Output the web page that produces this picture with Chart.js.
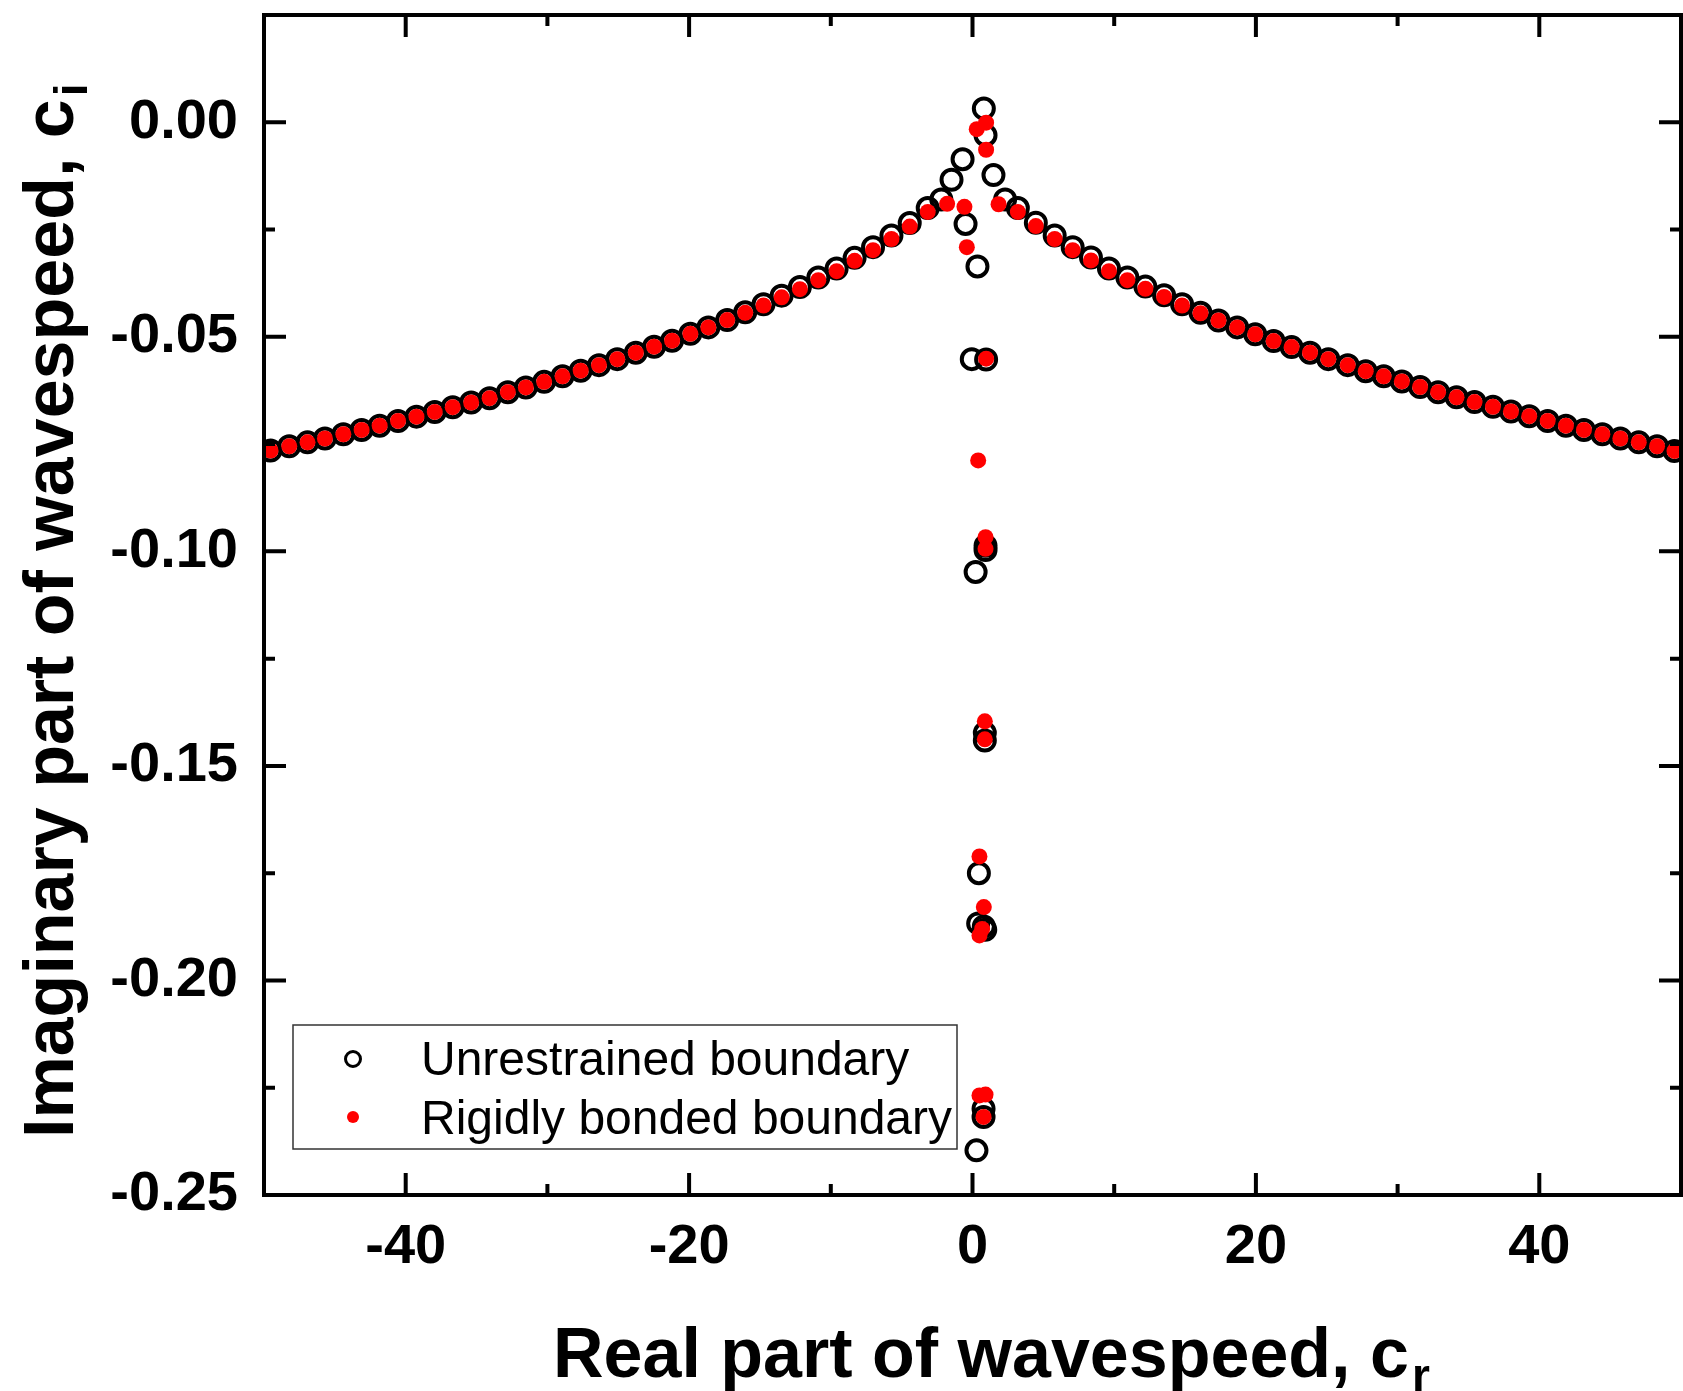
<!DOCTYPE html>
<html>
<head>
<meta charset="utf-8">
<script src="https://cdn.jsdelivr.net/npm/chart.js@4.4.0/dist/chart.umd.min.js"></script>
<style>
  html, body { margin: 0; padding: 0; background: #fff; overflow: hidden; }
  #wrap { width: 1683px; height: 1391px; }
  #waveChart { display: block; }
</style>
</head>
<body>
<div id="wrap"><canvas id="waveChart" width="1683" height="1391"></canvas></div>
<script>
// series names
var seriesNames = ['Unrestrained boundary', 'Rigidly bonded boundary'];

// rigidly bonded boundary (red dots)
var rigidLeftCr = [-49.54, -48.22, -46.93, -45.70, -44.40, -43.11, -41.84, -40.54, -39.24, -37.95,
  -36.68, -35.38, -34.08, -32.79, -31.52, -30.23, -28.93, -27.65, -26.36, -25.07,
  -23.76, -22.47, -21.20, -19.91, -18.64, -17.31, -16.04, -14.75, -13.47, -12.18,
  -10.88, -9.59, -8.32, -7.02, -5.72, -4.43, -3.16, -1.79];
var rigidLeftCi = [-0.0765, -0.0755, -0.0746, -0.0737, -0.0727, -0.0717, -0.0707, -0.0696, -0.0686, -0.0675,
  -0.0664, -0.0653, -0.0643, -0.0629, -0.0618, -0.0605, -0.0592, -0.0579, -0.0566, -0.0552,
  -0.0537, -0.0523, -0.0509, -0.0493, -0.0478, -0.0461, -0.0444, -0.0427, -0.0408, -0.0389,
  -0.0368, -0.0347, -0.0323, -0.0298, -0.0272, -0.0243, -0.0209, -0.0190];
var rigidRightCr = [1.84, 3.20, 4.47, 5.80, 7.07, 8.36, 9.63, 10.93, 12.20, 13.52,
  14.79, 16.09, 17.36, 18.68, 19.95, 21.25, 22.52, 23.82, 25.11, 26.48,
  27.75, 29.02, 30.30, 31.59, 32.86, 34.16, 35.43, 36.73, 38.00, 39.29,
  40.59, 41.88, 43.15, 44.45, 45.72, 47.02, 48.31, 49.54];
var rigidRightCi = [-0.0191, -0.0209, -0.0242, -0.0272, -0.0298, -0.0322, -0.0347, -0.0368, -0.0388, -0.0407,
  -0.0427, -0.0445, -0.0462, -0.0478, -0.0494, -0.0510, -0.0524, -0.0537, -0.0552, -0.0566,
  -0.0580, -0.0592, -0.0604, -0.0617, -0.0629, -0.0641, -0.0652, -0.0663, -0.0674, -0.0685,
  -0.0696, -0.0707, -0.0717, -0.0727, -0.0737, -0.0746, -0.0755, -0.0766];
var rigidCentreCr = [0.96, 0.30, 0.96, -0.57, -0.40, 0.96, 0.40, 0.92, 0.92, 0.87, 0.87, 0.49, 0.80, 0.68, 0.49, 0.49, 0.92, 0.78];
var rigidCentreCi = [-0.0001, -0.0016, -0.0064, -0.0197, -0.0291, -0.0551, -0.0788, -0.0967, -0.0994, -0.1396, -0.1438, -0.1711, -0.1829, -0.1880, -0.1895, -0.2268, -0.2266, -0.2318];

// unrestrained boundary (open black circles)
var freeLeftCr = [-49.54, -48.22, -46.93, -45.70, -44.40, -43.11, -41.84, -40.54, -39.24, -37.95,
  -36.68, -35.38, -34.08, -32.79, -31.52, -30.23, -28.93, -27.65, -26.36, -25.07,
  -23.76, -22.47, -21.20, -19.91, -18.64, -17.31, -16.04, -14.75, -13.47, -12.18,
  -10.88, -9.59, -8.32, -7.02, -5.72, -4.43, -3.16, -2.20];
var freeLeftCi = [-0.0765, -0.0755, -0.0746, -0.0737, -0.0727, -0.0717, -0.0707, -0.0696, -0.0686, -0.0675,
  -0.0664, -0.0653, -0.0643, -0.0629, -0.0618, -0.0605, -0.0592, -0.0579, -0.0566, -0.0552,
  -0.0537, -0.0523, -0.0509, -0.0493, -0.0478, -0.0461, -0.0443, -0.0424, -0.0404, -0.0384,
  -0.0362, -0.0341, -0.0316, -0.0291, -0.0264, -0.0235, -0.0200, -0.0180];
var freeRightCr = [2.30, 3.20, 4.47, 5.80, 7.07, 8.36, 9.63, 10.93, 12.20, 13.52,
  14.79, 16.09, 17.36, 18.68, 19.95, 21.25, 22.52, 23.82, 25.11, 26.48,
  27.75, 29.02, 30.30, 31.59, 32.86, 34.16, 35.43, 36.73, 38.00, 39.29,
  40.59, 41.88, 43.15, 44.45, 45.72, 47.02, 48.31, 49.54];
var freeRightCi = [-0.0180, -0.0200, -0.0234, -0.0264, -0.0291, -0.0315, -0.0341, -0.0362, -0.0383, -0.0403,
  -0.0424, -0.0444, -0.0462, -0.0478, -0.0494, -0.0510, -0.0524, -0.0537, -0.0552, -0.0566,
  -0.0580, -0.0592, -0.0604, -0.0617, -0.0629, -0.0641, -0.0652, -0.0663, -0.0674, -0.0685,
  -0.0696, -0.0707, -0.0717, -0.0727, -0.0737, -0.0746, -0.0755, -0.0766];
var freeCentreCr = [0.80, 0.92, -0.70, -1.48, 1.48, -0.49, 0.35, -0.05, 0.96, 0.92, 0.92, 0.22, 0.87, 0.87, 0.45, 0.40, 0.80, 0.90, 0.78, 0.78, 0.28];
var freeCentreCi = [0.0032, -0.0030, -0.0086, -0.0134, -0.0123, -0.0237, -0.0336, -0.0552, -0.0553, -0.0987, -0.0997, -0.1048, -0.1423, -0.1441, -0.1750, -0.1867, -0.1874, -0.1882, -0.2299, -0.2318, -0.2396];

// axis ticks
var xMajorTicks = [-40, -20, 0, 20, 40];
var xMinorTicks = [-30, -10, 10, 30];
var yMajorTicks = [0, -0.05, -0.10, -0.15, -0.20, -0.25];
var yMinorTicks = [0.025, -0.025, -0.075, -0.125, -0.175, -0.225];

function toPoints(crs, cis) {
  return crs.map(function(c, i) {
    return { x: c, y: cis[i] };
  });
}

var freePoints = toPoints(freeLeftCr, freeLeftCi)
  .concat(toPoints(freeCentreCr, freeCentreCi))
  .concat(toPoints(freeRightCr, freeRightCi));
var rigidPoints = toPoints(rigidLeftCr, rigidLeftCi)
  .concat(toPoints(rigidCentreCr, rigidCentreCi))
  .concat(toPoints(rigidRightCr, rigidRightCi));

var FONT = "'Liberation Sans', Arial, sans-serif";

// no automatic label padding, the frame is fixed
function noPadding(scale) {
  scale.paddingTop = 0;
  scale.paddingBottom = 0;
  scale.paddingLeft = 0;
  scale.paddingRight = 0;
}

// frame with inward ticks on all four sides
var framePlugin = {
  id: 'framePlugin',
  afterDatasetsDraw: function(chart) {
    var ctx = chart.ctx;
    var a = chart.chartArea;
    var xs = chart.scales.x, ys = chart.scales.y;
    ctx.save();
    ctx.strokeStyle = '#000';
    ctx.lineWidth = 4;
    ctx.lineCap = 'butt';
    ctx.beginPath();
    function tickX(list, len) {
      list.forEach(function(v) {
        var px = xs.getPixelForValue(v);
        ctx.moveTo(px, a.bottom); ctx.lineTo(px, a.bottom - len);
        ctx.moveTo(px, a.top); ctx.lineTo(px, a.top + len);
      });
    }
    function tickY(list, len) {
      list.forEach(function(v) {
        var py = ys.getPixelForValue(v);
        ctx.moveTo(a.left, py); ctx.lineTo(a.left + len, py);
        ctx.moveTo(a.right, py); ctx.lineTo(a.right - len, py);
      });
    }
    tickX(xMajorTicks, 22);
    tickX(xMinorTicks, 11);
    tickY(yMajorTicks, 22);
    tickY(yMinorTicks, 11);
    ctx.stroke();
    ctx.strokeRect(a.left, a.top, a.right - a.left, a.bottom - a.top);
    ctx.restore();
  }
};

// legend box in the lower left
var legendPlugin = {
  id: 'legendPlugin',
  afterDatasetsDraw: function(chart) {
    var ctx = chart.ctx;
    ctx.save();
    ctx.fillStyle = '#fff';
    ctx.fillRect(293, 1025, 664, 124);
    ctx.strokeStyle = '#333';
    ctx.lineWidth = 1.5;
    ctx.strokeRect(293, 1025, 664, 124);

    ctx.beginPath();
    ctx.arc(353, 1059, 7.5, 0, Math.PI * 2);
    ctx.strokeStyle = '#000';
    ctx.lineWidth = 3;
    ctx.stroke();

    ctx.beginPath();
    ctx.arc(353, 1117, 6, 0, Math.PI * 2);
    ctx.fillStyle = '#ff0000';
    ctx.fill();

    ctx.fillStyle = '#000';
    ctx.font = '48px ' + FONT;
    ctx.textAlign = 'left';
    ctx.textBaseline = 'alphabetic';
    ctx.fillText(seriesNames[0], 421, 1075);
    ctx.fillText(seriesNames[1], 421, 1134);
    ctx.restore();
  }
};

// axis titles with subscripts
var titlePlugin = {
  id: 'titlePlugin',
  afterDraw: function(chart) {
    var ctx = chart.ctx;
    function subText(main, sub) {
      ctx.font = 'bold 70px ' + FONT;
      ctx.fillText(main, 0, 0);
      var w = ctx.measureText(main).width;
      ctx.font = 'bold 46px ' + FONT;
      ctx.fillText(sub, w + 3, 14);
    }
    ctx.save();
    ctx.fillStyle = '#000';
    ctx.textAlign = 'left';
    ctx.textBaseline = 'alphabetic';
    ctx.translate(553, 1377);
    subText('Real part of wavespeed, c', 'r');
    ctx.restore();

    ctx.save();
    ctx.fillStyle = '#000';
    ctx.textAlign = 'left';
    ctx.textBaseline = 'alphabetic';
    ctx.translate(73, 1138);
    ctx.rotate(-Math.PI / 2);
    subText('Imaginary part of wavespeed, c', 'i');
    ctx.restore();
  }
};

document.addEventListener('DOMContentLoaded', function() {
  var ctxWave = document.getElementById('waveChart').getContext('2d');

  var dataWave = {
    datasets: [{
      label: seriesNames[0],
      data: freePoints,
      order: 1,
      pointStyle: 'circle',
      pointRadius: 10,
      pointBorderWidth: 4,
      pointBorderColor: '#000',
      pointBackgroundColor: 'rgba(0,0,0,0)',
      showLine: false
    }, {
      label: seriesNames[1],
      data: rigidPoints,
      order: 0,
      pointStyle: 'circle',
      pointRadius: 8,
      pointBorderWidth: 0,
      pointBorderColor: '#ff0000',
      pointBackgroundColor: '#ff0000',
      showLine: false
    }]
  };

  var optionsWave = {
    responsive: false,
    animation: false,
    devicePixelRatio: 1,
    layout: {
      autoPadding: false,
      padding: { top: 15, right: 2, left: 0, bottom: 0 }
    },
    plugins: {
      legend: { display: false },
      tooltip: { enabled: false }
    },
    scales: {
      x: {
        type: 'linear',
        min: -50,
        max: 50,
        grid: { display: false },
        border: { display: false },
        afterBuildTicks: function(scale) {
          scale.ticks = xMajorTicks.map(function(v) { return { value: v }; });
        },
        afterFit: function(scale) {
          scale.height = 196;
          noPadding(scale);
        },
        ticks: {
          autoSkip: false,
          maxRotation: 0,
          padding: 11,
          color: '#000',
          font: { family: FONT, size: 56, weight: 'bold' },
          callback: function(v) { return String(v); }
        }
      },
      y: {
        type: 'linear',
        min: -0.25,
        max: 0.025,
        grid: { display: false },
        border: { display: false },
        afterBuildTicks: function(scale) {
          scale.ticks = yMajorTicks.map(function(v) { return { value: v }; });
        },
        afterFit: function(scale) {
          scale.width = 264;
          noPadding(scale);
        },
        ticks: {
          autoSkip: false,
          padding: 18,
          color: '#000',
          font: { family: FONT, size: 56, weight: 'bold' },
          callback: function(v) { return v.toFixed(2); }
        }
      }
    }
  };

  new Chart(ctxWave, {
    type: 'scatter',
    data: dataWave,
    options: optionsWave,
    plugins: [framePlugin, legendPlugin, titlePlugin]
  });
});
</script>
</body>
</html>
